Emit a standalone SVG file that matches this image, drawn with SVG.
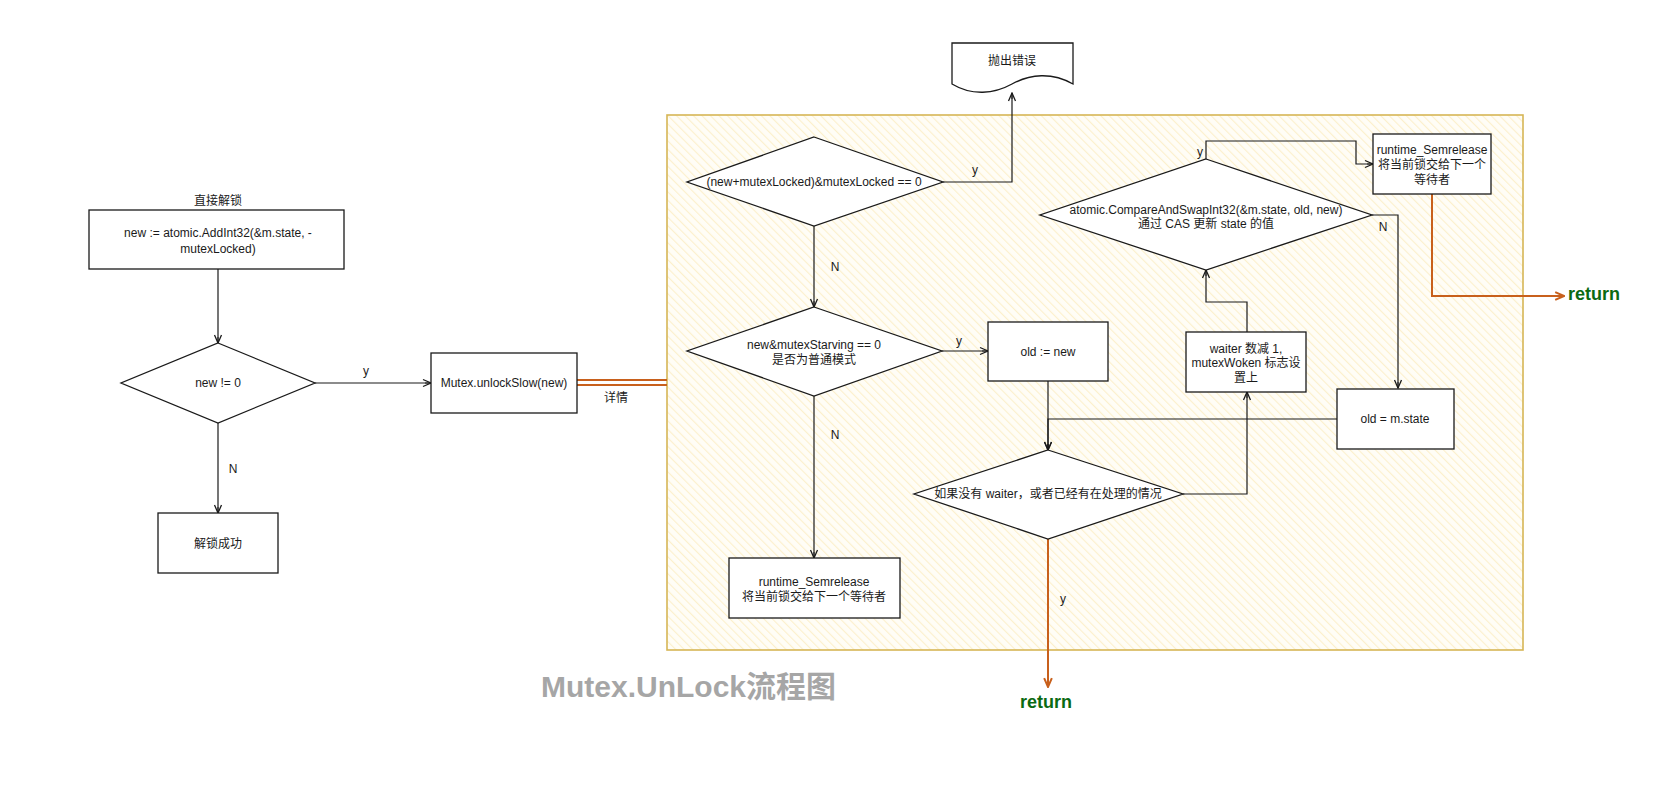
<svg xmlns="http://www.w3.org/2000/svg" width="1676" height="800" viewBox="0 0 1676 800">
<defs>
<pattern id="hatch" width="6" height="6" patternUnits="userSpaceOnUse" patternTransform="rotate(-45)">
<rect width="6" height="6" fill="#fffdf6"/>
<line x1="0" y1="0" x2="0" y2="6" stroke="#fcf0cc" stroke-width="2.2"/>
</pattern>
<marker id="arr" viewBox="0 0 10 10" refX="9" refY="5" markerWidth="10" markerHeight="10" markerUnits="userSpaceOnUse" orient="auto">
<path d="M1,1.5 L9,5 L1,8.5" fill="none" stroke="#1a1a1a" stroke-width="1.3"/>
<path d="M3,5 L9,5" stroke="#1a1a1a" stroke-width="1"/>
</marker>
<marker id="arrO" viewBox="0 0 10 10" refX="9" refY="5" markerWidth="11" markerHeight="11" markerUnits="userSpaceOnUse" orient="auto">
<path d="M1,1.5 L9,5 L1,8.5" fill="none" stroke="#c8601c" stroke-width="1.8"/>
</marker>
</defs>
<style>
.n{fill:#ffffff;stroke:#1a1a1a;stroke-width:1.3}
.t{font-family:"Liberation Sans","Noto Sans CJK SC",sans-serif;font-size:12px;fill:#1a1a1a;text-anchor:middle;dominant-baseline:central}
.c{fill:none;stroke:#1a1a1a;stroke-width:1.2}
.o{fill:none;stroke:#c8601c;stroke-width:2}
.ret{font-family:"Liberation Sans",sans-serif;font-size:18px;font-weight:bold;fill:#0b6a12;dominant-baseline:central}
</style>
<rect width="1676" height="800" fill="#ffffff"/>

<g id="container">
<rect x="667" y="115" width="856" height="535" fill="url(#hatch)" stroke="#d6b656" stroke-width="1.6"/>
</g>

<g id="title">
<text x="541" y="686" font-family="Liberation Sans,'Noto Sans CJK SC',sans-serif" font-size="30" font-weight="bold" fill="#a6a6a6" dominant-baseline="central">Mutex.UnLock流程图</text>
</g>

<g id="connectors">
<path class="c" d="M218,269 L218,343" marker-end="url(#arr)"/>
<path class="c" d="M315,383 L431,383" marker-end="url(#arr)"/>
<text class="t" x="366" y="371">y</text>
<path class="c" d="M218,423 L218,513" marker-end="url(#arr)"/>
<text class="t" x="233" y="469">N</text>
<path class="o" d="M577,380 L667,380 M577,385 L667,385" stroke-width="1.2"/>
<text class="t" x="616" y="398">详情</text>
<path class="c" d="M943,182 L1012,182 L1012,93" marker-end="url(#arr)"/>
<text class="t" x="975" y="170">y</text>
<path class="c" d="M814,226 L814,307" marker-end="url(#arr)"/>
<text class="t" x="835" y="267">N</text>
<path class="c" d="M942,351 L988,351" marker-end="url(#arr)"/>
<text class="t" x="959" y="341">y</text>
<path class="c" d="M814,396 L814,558" marker-end="url(#arr)"/>
<text class="t" x="835" y="435">N</text>
<path class="c" d="M1048,381 L1048,450" marker-end="url(#arr)"/>
<path class="c" d="M1337,419 L1048,419 L1048,450" marker-end="url(#arr)"/>
<path class="c" d="M1183,494 L1247,494 L1247,392" marker-end="url(#arr)"/>
<path class="c" d="M1247,332 L1247,302 L1206,302 L1206,270" marker-end="url(#arr)"/>
<path class="c" d="M1206,159 L1206,141 L1356,141 L1356,164 L1373,164" marker-end="url(#arr)"/>
<text class="t" x="1200" y="152">y</text>
<path class="c" d="M1372,215 L1398,215 L1398,388" marker-end="url(#arr)"/>
<text class="t" x="1383" y="227">N</text>
<path class="o" d="M1432,194 L1432,296 L1564,296" marker-end="url(#arrO)"/>
<path class="o" d="M1048,539 L1048,687" marker-end="url(#arrO)"/>
<text class="t" x="1063" y="599">y</text>
</g>

<g id="direct-label"><text class="t" x="218" y="201">直接解锁</text></g>

<g id="box-add">
<rect class="n" x="89" y="210" width="255" height="59"/>
<text class="t" x="218" y="233">new := atomic.AddInt32(&amp;m.state, -</text>
<text class="t" x="218" y="249">mutexLocked)</text>
</g>

<g id="dec-new">
<polygon class="n" points="218,343 315,383 218,423 121,383"/>
<text class="t" x="218" y="383">new != 0</text>
</g>

<g id="box-slow">
<rect class="n" x="431" y="353" width="146" height="60"/>
<text class="t" x="504" y="383">Mutex.unlockSlow(new)</text>
</g>

<g id="box-ok">
<rect class="n" x="158" y="513" width="120" height="60"/>
<text class="t" x="218" y="544">解锁成功</text>
</g>

<g id="doc-error">
<path class="n" d="M952,43 L1073,43 L1073,84 C1052,72 1030,74 1012,84 C994,94 972,96 952,84 Z"/>
<text class="t" x="1012" y="61">抛出错误</text>
</g>

<g id="dec-locked">
<polygon class="n" points="814,137 943,182 814,226 687,182"/>
<text class="t" x="814" y="182">(new+mutexLocked)&amp;mutexLocked == 0</text>
</g>

<g id="dec-starving">
<polygon class="n" points="814,307 942,351 814,396 687,351"/>
<text class="t" x="814" y="345">new&amp;mutexStarving == 0</text>
<text class="t" x="814" y="360">是否为普通模式</text>
</g>

<g id="box-sem1">
<rect class="n" x="729" y="558" width="171" height="60"/>
<text class="t" x="814" y="582">runtime_Semrelease</text>
<text class="t" x="814" y="597">将当前锁交给下一个等待者</text>
</g>

<g id="box-old">
<rect class="n" x="988" y="322" width="120" height="59"/>
<text class="t" x="1048" y="352">old := new</text>
</g>

<g id="dec-waiter">
<polygon class="n" points="1048,450 1183,494 1048,539 914,494"/>
<text class="t" x="1048" y="494">如果没有 waiter，或者已经有在处理的情况</text>
</g>

<g id="box-waiter">
<rect class="n" x="1186" y="332" width="120" height="60"/>
<text class="t" x="1246" y="349">waiter 数减 1,</text>
<text class="t" x="1246" y="363">mutexWoken 标志设</text>
<text class="t" x="1246" y="378">置上</text>
</g>

<g id="dec-cas">
<polygon class="n" points="1206,159 1372,215 1206,270 1040,215"/>
<text class="t" x="1206" y="210">atomic.CompareAndSwapInt32(&amp;m.state, old, new)</text>
<text class="t" x="1206" y="224">通过 CAS 更新 state 的值</text>
</g>

<g id="box-sem2">
<rect class="n" x="1373" y="134" width="118" height="60"/>
<text class="t" x="1432" y="150">runtime_Semrelease</text>
<text class="t" x="1432" y="165">将当前锁交给下一个</text>
<text class="t" x="1432" y="180">等待者</text>
</g>

<g id="box-mstate">
<rect class="n" x="1337" y="389" width="117" height="60"/>
<text class="t" x="1395" y="419">old = m.state</text>
</g>

<g id="return-1"><text class="ret" x="1568" y="294">return</text></g>
<g id="return-2"><text class="ret" x="1020" y="702">return</text></g>
</svg>
